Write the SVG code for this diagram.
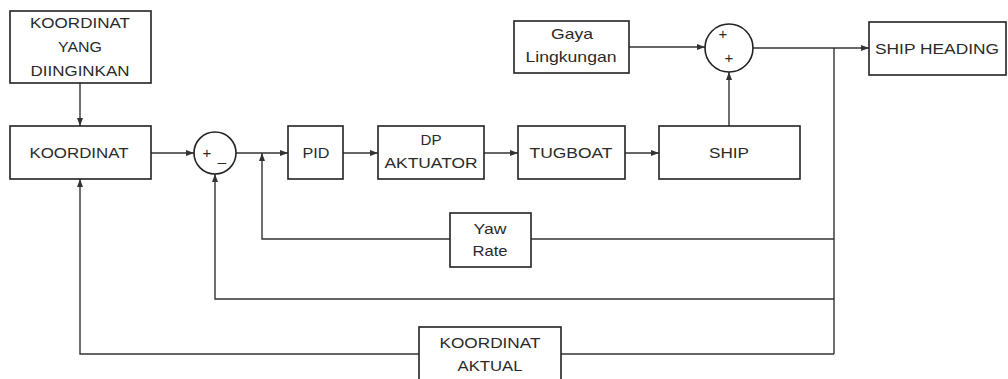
<svg xmlns="http://www.w3.org/2000/svg" width="1008" height="379" viewBox="0 0 1008 379">
<style>
.box{fill:#fff;stroke:#222;stroke-width:1.6}
.ln{fill:none;stroke:#333;stroke-width:1.4}
.ar{fill:none;stroke:#333;stroke-width:1.4;marker-end:url(#ah)}
text{font-family:"Liberation Sans",Arial,sans-serif;font-size:15px;fill:#2a2a2a;text-anchor:middle}
.sg{font-size:15px}
</style>
<defs>
<marker id="ah" markerWidth="8" markerHeight="6" refX="8" refY="3" orient="auto" markerUnits="userSpaceOnUse">
<path d="M0,0 L8,3 L0,6 Z" fill="#333"/>
</marker>
</defs>
<rect width="1008" height="379" fill="#fff"/>
<g id="connectors">
<path class="ar" d="M80,83 V126"/>
<path class="ar" d="M151,153 H194"/>
<path class="ar" d="M236,153 H288"/>
<path class="ar" d="M343,153 H378"/>
<path class="ar" d="M484,153 H518"/>
<path class="ar" d="M625,153 H659"/>
<path class="ar" d="M629,47 H705"/>
<path class="ar" d="M729,126 V72"/>
<path class="ar" d="M753,48 H869"/>
<path class="ln" d="M834,48 V354"/>
<path class="ln" d="M834,239 H531"/>
<path class="ar" d="M450,239 H262 V153"/>
<path class="ar" d="M834,299 H215 V174"/>
<path class="ln" d="M834,354 H561"/>
<path class="ar" d="M419,354 H80 V179"/>
</g>
<g id="koordinat-diinginkan">
<rect class="box" x="10" y="11" width="141" height="72"/>
<text x="80" y="28" textLength="100" lengthAdjust="spacingAndGlyphs">KOORDINAT</text>
<text x="80" y="52" textLength="44" lengthAdjust="spacingAndGlyphs">YANG</text>
<text x="80" y="76" textLength="99" lengthAdjust="spacingAndGlyphs">DIINGINKAN</text>
</g>
<g id="koordinat">
<rect class="box" x="10" y="126" width="141" height="53"/>
<text x="79" y="158" textLength="99" lengthAdjust="spacingAndGlyphs">KOORDINAT</text>
</g>
<g id="sum1">
<circle class="box" cx="215" cy="153" r="21"/>
<text class="sg" x="207" y="158">+</text>
<text class="sg" x="222" y="161">_</text>
</g>
<g id="pid">
<rect class="box" x="288" y="126" width="55" height="53"/>
<text x="316" y="158" textLength="27" lengthAdjust="spacingAndGlyphs">PID</text>
</g>
<g id="dp-aktuator">
<rect class="box" x="378" y="126" width="106" height="53"/>
<text x="431" y="145" textLength="21" lengthAdjust="spacingAndGlyphs">DP</text>
<text x="431" y="168" textLength="93" lengthAdjust="spacingAndGlyphs">AKTUATOR</text>
</g>
<g id="tugboat">
<rect class="box" x="518" y="126" width="107" height="53"/>
<text x="571" y="158" textLength="83" lengthAdjust="spacingAndGlyphs">TUGBOAT</text>
</g>
<g id="ship">
<rect class="box" x="659" y="126" width="141" height="53"/>
<text x="729" y="158" textLength="40" lengthAdjust="spacingAndGlyphs">SHIP</text>
</g>
<g id="gaya-lingkungan">
<rect class="box" x="514" y="21" width="115" height="52"/>
<text x="572" y="39" textLength="42" lengthAdjust="spacingAndGlyphs">Gaya</text>
<text x="571" y="62" textLength="91" lengthAdjust="spacingAndGlyphs">Lingkungan</text>
</g>
<g id="sum2">
<circle class="box" cx="729" cy="48" r="24"/>
<text class="sg" x="723" y="39">+</text>
<text class="sg" x="729" y="63">+</text>
</g>
<g id="ship-heading">
<rect class="box" x="869" y="22" width="137" height="53"/>
<text x="937" y="54" textLength="124" lengthAdjust="spacingAndGlyphs">SHIP HEADING</text>
</g>
<g id="yaw-rate">
<rect class="box" x="450" y="213" width="81" height="54"/>
<text x="490" y="234" textLength="33" lengthAdjust="spacingAndGlyphs">Yaw</text>
<text x="490" y="256" textLength="35" lengthAdjust="spacingAndGlyphs">Rate</text>
</g>
<g id="koordinat-aktual">
<rect class="box" x="419" y="327" width="142" height="55"/>
<text x="490" y="348" textLength="101" lengthAdjust="spacingAndGlyphs">KOORDINAT</text>
<text x="490" y="371" textLength="65" lengthAdjust="spacingAndGlyphs">AKTUAL</text>
</g>
</svg>
